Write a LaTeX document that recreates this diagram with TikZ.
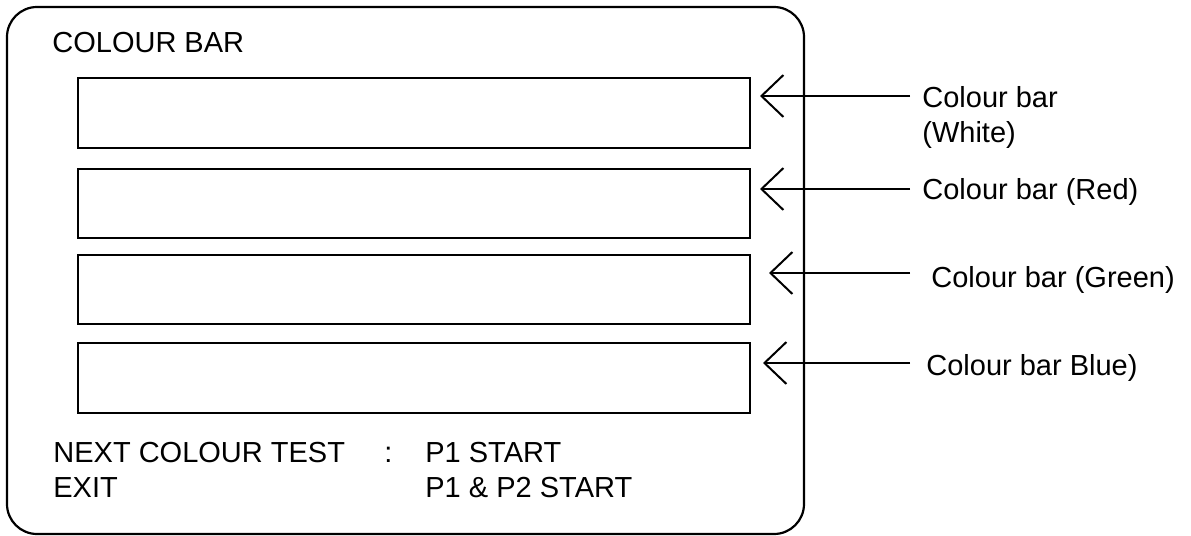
\documentclass[tikz,border=0pt]{standalone}
\usepackage{fontspec}
\setmainfont{Liberation Sans}
\usetikzlibrary{arrows.meta}
\begin{document}
\begin{tikzpicture}[x=0.5pt,y=-0.5pt,
    every node/.style={inner sep=0pt,font=\fontsize{14.5}{17.5}\selectfont},
    bar/.style={draw,line width=1pt,minimum width=336pt,minimum height=34.75pt},
    txt/.style={anchor=base west,align=left},
    pointer/.style={line width=1pt,-{Straight Barb[length=11pt,width=21pt]}}]
    \useasboundingbox (0,0) rectangle (1191,536);

    % screen frame
    \draw[line width=1.1pt,rounded corners=15pt] (7,7) rectangle (804,534);
    \node[txt] (title) at (52,52) {COLOUR BAR};

    % bars
    \node[bar] (barWhite) at (414,113) {};
    \node[bar] (barRed) at (414,203.5) {};
    \node[bar] (barGreen) at (414,289.5) {};
    \node[bar] (barBlue) at (414,378) {};

    % key lines
    \node[txt] (nextKey) at (53,462) {NEXT COLOUR TEST};
    \node[txt] (colon) at (384,462) {:};
    \node[txt] (nextVal) at (425,462) {P1 START};
    \node[txt] (exitKey) at (53,497) {EXIT};
    \node[txt] (exitVal) at (425,497) {P1 \& P2 START};

    % labels (base of a two-line node is its last line)
    \node[txt] (lblWhite) at (922,142) {Colour bar\\(White)};
    \node[txt] (lblRed) at (922,199) {Colour bar (Red)};
    \node[txt] (lblGreen) at (931,287) {Colour bar (Green)};
    \node[txt] (lblBlue) at (926,375) {Colour bar Blue)};

    % pointers
    \coordinate (tailWhite) at (910,96);
    \coordinate (tipWhite) at (760,96);
    \coordinate (tailRed) at (910,189);
    \coordinate (tipRed) at (760,189);
    \coordinate (tailGreen) at (910,273);
    \coordinate (tipGreen) at (769,273);
    \coordinate (tailBlue) at (910,363);
    \coordinate (tipBlue) at (763,363);
    \draw[pointer] (tailWhite) -- (tipWhite);
    \draw[pointer] (tailRed) -- (tipRed);
    \draw[pointer] (tailGreen) -- (tipGreen);
    \draw[pointer] (tailBlue) -- (tipBlue);
\end{tikzpicture}
\end{document}
